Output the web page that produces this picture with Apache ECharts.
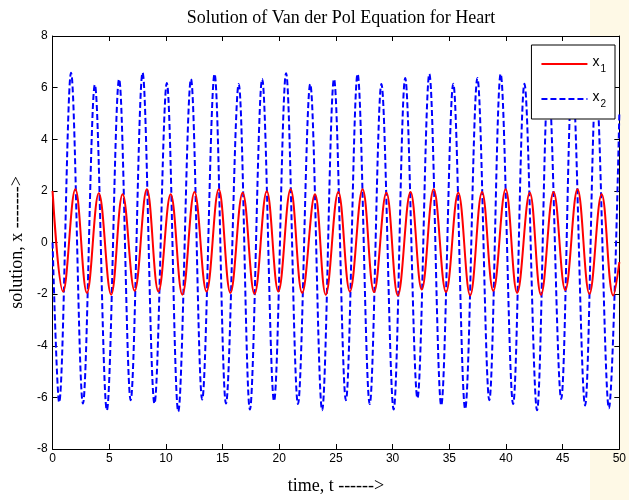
<!DOCTYPE html>
<html>
<head>
<meta charset="utf-8">
<script src="https://cdn.jsdelivr.net/npm/echarts@6/dist/echarts.min.js"></script>
<style>
html,body{margin:0;padding:0;background:#fff;}
#chart{width:629px;height:500px;}
</style>
</head>
<body>
<div id="chart"></div>
<script>
// ---- Data (extrema of each curve) ----
var titleText = 'Solution of Van der Pol Equation for Heart';
var xAxisName = 'time, t ------>';
var yAxisName = 'solution, x ------->';
var xTicks = [0, 5, 10, 15, 20, 25, 30, 35, 40, 45, 50];
var yTicks = [-8, -6, -4, -2, 0, 2, 4, 6, 8];
var seriesNames = ['x1', 'x2'];

var x1Times = [0, 0.93, 2.01, 3.03, 4.08, 5.17, 6.18, 7.24, 8.32, 9.34, 10.42, 11.45, 12.52, 13.58, 14.66, 15.69, 16.77, 17.82, 18.90, 19.92, 21.00, 22.02, 23.15, 24.10, 25.21, 26.23, 27.35, 28.36, 29.45, 30.46, 31.58, 32.57, 33.62, 34.71, 35.79, 36.84, 37.89, 38.88, 39.97, 40.99, 42.10, 43.09, 44.20, 45.23, 46.31, 47.36, 48.44, 49.46, 50];
var x1Values = [2.00, -1.90, 2.06, -1.95, 1.91, -2.02, 1.87, -1.87, 2.06, -1.90, 1.87, -2.02, 1.96, -1.90, 2.06, -1.95, 1.93, -1.99, 1.99, -1.90, 2.06, -1.95, 1.87, -2.02, 1.96, -1.90, 2.06, -1.92, 1.93, -2.05, 1.96, -1.82, 2.06, -1.92, 1.93, -2.05, 1.96, -1.87, 2.06, -1.95, 1.93, -2.02, 1.96, -1.84, 2.06, -1.99, 1.87, -2.05, -0.76];

var x2Times = [0, 0.58, 1.63, 2.68, 3.73, 4.79, 5.87, 6.89, 7.94, 8.99, 10.08, 11.09, 12.21, 13.20, 14.29, 15.30, 16.42, 17.41, 18.49, 19.54, 20.60, 21.65, 22.73, 23.78, 24.83, 25.88, 26.91, 27.98, 29.01, 30.09, 31.11, 32.19, 33.24, 34.29, 35.35, 36.40, 37.48, 38.53, 39.53, 40.63, 41.63, 42.74, 43.74, 44.87, 45.85, 46.98, 47.95, 49.08, 50];
var x2Values = [0, -6.19, 6.58, -6.24, 6.11, -6.50, 6.33, -6.11, 6.58, -6.24, 6.18, -6.55, 6.33, -6.08, 6.53, -6.24, 6.14, -6.47, 6.33, -6.14, 6.56, -6.26, 6.14, -6.50, 6.33, -6.11, 6.53, -6.26, 6.14, -6.47, 6.37, -6.03, 6.53, -6.31, 6.15, -6.45, 6.37, -6.11, 6.53, -6.26, 6.15, -6.50, 6.37, -6.06, 6.53, -6.31, 6.15, -6.42, 5.00];

function pairs(ts, vs) { return ts.map(function (t, i) { return [t, vs[i]]; }); }

var chart = echarts.init(document.getElementById('chart'), null, { renderer: 'canvas' });

var sansFont = 'Liberation Sans';
var serifFont = 'Liberation Serif';
var xMin = xTicks[0], xMax = xTicks[xTicks.length - 1], xInt = xTicks[1] - xTicks[0];
var yMin = yTicks[0], yMax = yTicks[yTicks.length - 1], yInt = yTicks[1] - yTicks[0];

var baseAxis = {
  axisLine: { show: true, onZero: false, lineStyle: { color: '#000', width: 1 } },
  axisTick: { show: true, inside: true, length: 5, lineStyle: { color: '#000' } },
  splitLine: { show: false }
};

var option = {
  backgroundColor: '#ffffff',
  animation: false,
  graphic: [
    { type: 'rect', left: 590, top: 0, shape: { width: 39, height: 500 }, style: { fill: '#fef9e6' }, z: -10, silent: true }
  ],
  title: {
    text: titleText,
    left: 336, textAlign: 'center', top: 4,
    textStyle: { fontFamily: serifFont, fontWeight: 'normal', fontSize: 18, color: '#000' }
  },
  grid: { left: 51, right: 8, top: 36, bottom: 49, containLabel: false, show: true, backgroundColor: '#ffffff', borderWidth: 0 },
  legend: {
    data: seriesNames,
    orient: 'vertical',
    right: 14, top: 45,
    padding: [10, 9, 10, 9],
    itemWidth: 46, itemHeight: 14, itemGap: 16,
    backgroundColor: '#fff',
    borderColor: '#000', borderWidth: 1, borderRadius: 0,
    itemStyle: { opacity: 0 },
    formatter: function (name) { return '{x|' + name.charAt(0) + '}{s|' + name.slice(1) + '}'; },
    textStyle: {
      color: '#000',
      rich: {
        x: { fontFamily: sansFont, fontSize: 14, color: '#000', padding: [0, 0, 4, 0] },
        s: { fontFamily: sansFont, fontSize: 10, color: '#000', padding: [10, 0, 0, 1] }
      }
    }
  },
  xAxis: [
    Object.assign({}, baseAxis, {
      type: 'value', min: xMin, max: xMax, interval: xInt, position: 'bottom',
      name: xAxisName, nameLocation: 'middle', nameGap: 28,
      nameTextStyle: { fontFamily: serifFont, fontSize: 18, color: '#000' },
      axisLabel: { show: true, margin: 4, fontFamily: sansFont, fontSize: 12, color: '#000' }
    }),
    Object.assign({}, baseAxis, {
      type: 'value', min: xMin, max: xMax, interval: xInt, position: 'top',
      axisLabel: { show: false }
    })
  ],
  yAxis: [
    Object.assign({}, baseAxis, {
      type: 'value', min: yMin, max: yMax, interval: yInt, position: 'left',
      name: yAxisName, nameLocation: 'middle', nameGap: 24, nameRotate: 90,
      nameTextStyle: { fontFamily: serifFont, fontSize: 18, color: '#000' },
      axisLabel: { show: true, margin: 5, fontFamily: sansFont, fontSize: 12, color: '#000' }
    }),
    Object.assign({}, baseAxis, {
      type: 'value', min: yMin, max: yMax, interval: yInt, position: 'right',
      axisLabel: { show: false }
    })
  ],
  series: [
    {
      name: seriesNames[0], type: 'line', xAxisIndex: 0, yAxisIndex: 0,
      data: pairs(x1Times, x1Values),
      symbol: 'none', smooth: 0.4,
      lineStyle: { color: '#ff0000', width: 2, type: 'solid' },
      itemStyle: { color: '#ff0000' }, z: 3
    },
    {
      name: seriesNames[1], type: 'line', xAxisIndex: 0, yAxisIndex: 0,
      data: pairs(x2Times, x2Values),
      symbol: 'none', smooth: 0.35,
      lineStyle: { color: '#0000ff', width: 2, type: [6, 3] },
      itemStyle: { color: '#0000ff' }, z: 2
    }
  ]
};
chart.setOption(option);
</script>
</body>
</html>
